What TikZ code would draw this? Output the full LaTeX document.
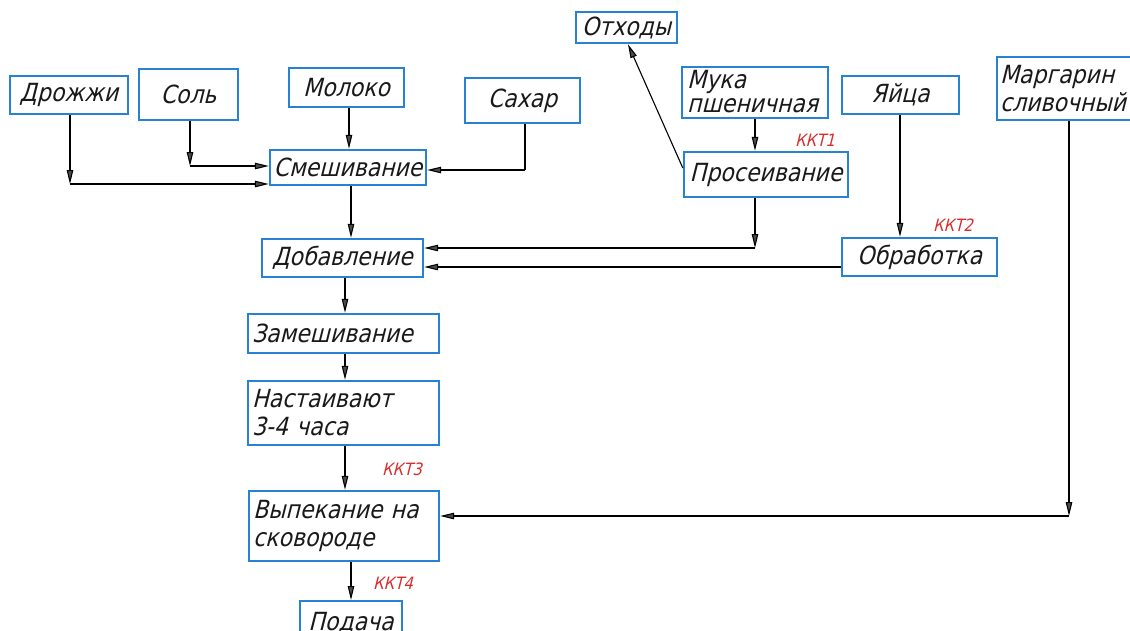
\documentclass[tikz,border=0pt]{standalone}
\usepackage{fontspec}
\setmainfont{DejaVu Sans}
\newfontfamily\gost{DejaVu Sans}[FakeSlant=0.25,FakeStretch=0.88]
\usetikzlibrary{arrows.meta}
\definecolor{boxblue}{RGB}{40,130,210}
\definecolor{kkt}{RGB}{215,45,45}
\begin{document}
\begin{tikzpicture}[x=1pt,y=-1pt,
  box/.style={draw=boxblue,line width=2.4pt,inner sep=3pt,font=\gost\fontsize{25}{28}\selectfont,text=black!90},
  lbox/.style={box,align=left},
  txt/.style={inner sep=0pt,align=left,font=\gost\fontsize{25}{24}\selectfont,text=black!90},
  con/.style={line width=1.1pt,-{Triangle[open,length=14pt,width=6.5pt,fill=black!70]}},
  pl/.style={line width=1.1pt},
  kktlab/.style={text=kkt,font=\gost\fontsize{17}{19}\selectfont},
]
\useasboundingbox (0,0) rectangle (1130,630);
\clip (0,0) rectangle (1130,630);
% boxes
\node[box,minimum width=118pt,minimum height=38pt] (drozh) at (69,95) {Дрожжи};
\node[box,minimum width=99pt,minimum height=51pt] (sol) at (188.5,94.5) {Соль};
\node[box,minimum width=115pt,minimum height=39pt] (moloko) at (346.5,87.5) {Молоко};
\node[box,minimum width=115pt,minimum height=45pt] (sahar) at (522.5,100.5) {Сахар};
\node[box,minimum width=156pt,minimum height=35pt,inner sep=1pt] (smesh) at (348,167.5) {Смешивание};
\node[box,minimum width=101pt,minimum height=31pt,inner sep=0pt] (othody) at (626.5,27.5) {Отходы};
\node[box,minimum width=146pt,minimum height=51pt] (muka) at (755,92.5) {};
\node[txt,anchor=north west] (mukat) at (687,70) {Мука\\пшеничная};
\node[box,minimum width=117pt,minimum height=38pt] (yaica) at (900.5,95) {Яйца};
\node[lbox,minimum width=150pt,minimum height=63pt,text width=144pt] (margarin) at (1072,88.5) {Маргарин\\сливочный};
\node[box,minimum width=164pt,minimum height=45pt,inner sep=1pt] (proseiv) at (766,174.5) {Просеивание};
\node[box,minimum width=161pt,minimum height=38pt,inner sep=1pt] (dobav) at (342.5,258) {Добавление};
\node[box,minimum width=155pt,minimum height=38pt] (obrab) at (919.5,257) {Обработка};
\node[lbox,minimum width=191pt,minimum height=39pt,text width=183pt] (zamesh) at (343.5,333.5) {Замешивание};
\node[lbox,minimum width=191pt,minimum height=64pt,text width=183pt] (nast) at (343.5,413) {Настаивают\\3-4 часа};
\node[lbox,minimum width=190pt,minimum height=70pt,text width=182pt] (vypek) at (344,526) {Выпекание на\\сковороде};
\node[box,minimum width=102pt,minimum height=44pt,anchor=north] (podacha) at (351,600) {Подача};
% corner coordinates
\coordinate (cdr) at (70,184);
\coordinate (csol) at (190,166);
\coordinate (csah) at (525,170);
\coordinate (cpr) at (755,248);
\coordinate (cmar) at (1069,516);
% connectors
\draw[con] (drozh.south -| cdr) -- (cdr);
\draw[con] (cdr) -- (cdr -| smesh.west);
\draw[con] (sol.south -| csol) -- (csol);
\draw[con] (csol) -- (csol -| smesh.west);
\draw[con] (moloko.south -| 349,0) -- (smesh.north -| 349,0);
\draw[pl] (sahar.south -| csah) -- (csah);
\draw[con] (csah) -- (csah -| smesh.east);
\draw[con] (smesh.south -| 351,0) -- (dobav.north -| 351,0);
\draw[con] (muka.south -| 755,0) -- (proseiv.north -| 755,0);
\draw[con] (proseiv.west |- 0,168) -- (othody.south -| 628,0);
\draw[con] (proseiv.south -| cpr) -- (cpr);
\draw[con] (cpr) -- (cpr -| dobav.east);
\draw[con] (yaica.south -| 900,0) -- (obrab.north -| 900,0);
\draw[con] (obrab.west |- 0,267) -- (dobav.east |- 0,267);
\draw[con] (dobav.south -| 345,0) -- (zamesh.north -| 345,0);
\draw[con] (zamesh.south -| 345,0) -- (nast.north -| 345,0);
\draw[con] (nast.south -| 345,0) -- (vypek.north -| 345,0);
\draw[con] (margarin.south -| cmar) -- (cmar);
\draw[con] (cmar) -- (cmar -| vypek.east);
\draw[con] (vypek.south -| 351,0) -- (podacha.north -| 351,0);
% labels
\node[kktlab] (k1) at (815,140) {ККТ1};
\node[kktlab] (k2) at (953,225) {ККТ2};
\node[kktlab] (k3) at (402,469) {ККТ3};
\node[kktlab] (k4) at (393,583) {ККТ4};
\end{tikzpicture}
\end{document}
